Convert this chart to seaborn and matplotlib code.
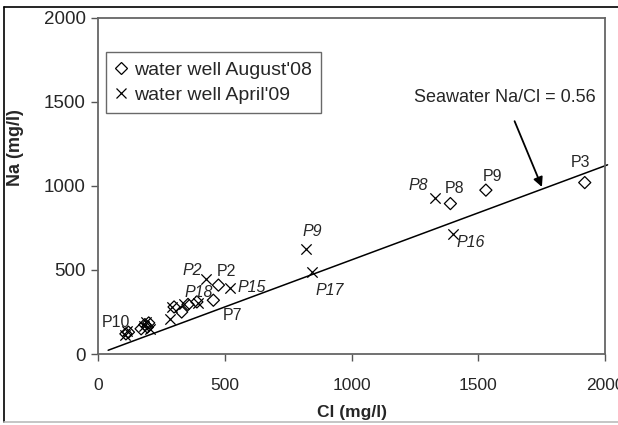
import numpy as np
import matplotlib
matplotlib.use('Agg')
import matplotlib.pyplot as plt
from matplotlib.lines import Line2D
import seaborn as sns

# data (Cl, Na in mg/l)
aug08_cl = [110, 120, 170, 185, 195, 200, 300, 330, 355, 390, 455, 475, 1390, 1530, 1920]
aug08_na = [120, 130, 150, 175, 160, 185, 280, 250, 295, 310, 320, 410, 895, 975, 1020]
apr09_cl = [105, 115, 180, 190, 205, 285, 290, 340, 395, 425, 520, 820, 845, 1330, 1400]
apr09_na = [115, 135, 165, 190, 150, 210, 280, 300, 305, 445, 390, 625, 490, 930, 715]

seawater_ratio = 0.56
line_cl = [40, 2010]

# point labels: text, Cl, Na, italic?
labels = [
    ('P10', 71, 185, False), ('P2', 371, 494, True), ('P2', 505, 488, False),
    ('P18', 398, 369, True), ('P15', 607, 393, True), ('P7', 529, 232, False),
    ('P9', 844, 726, True), ('P17', 915, 375, True), ('P8', 1262, 1000, True),
    ('P8', 1408, 982, False), ('P9', 1558, 1054, False), ('P16', 1471, 661, True),
    ('P3', 1905, 1137, False),
]

sns.set_style('white')
plt.rcParams['font.family'] = ['Liberation Sans', 'DejaVu Sans']

fig = plt.figure(figsize=(6.18, 4.25), dpi=100)
ax = fig.add_axes([0.1586, 0.167, 0.8204, 0.791])

# seawater mixing line
ax.plot(line_cl, [c * seawater_ratio for c in line_cl], color='black', lw=1.1,
        clip_on=False, zorder=2)

sns.scatterplot(x=aug08_cl, y=aug08_na, marker='D', s=38, facecolor='none',
                edgecolor='black', linewidth=0.9, ax=ax, zorder=3)
sns.scatterplot(x=apr09_cl, y=apr09_na, marker='x', s=55, color='black',
                linewidth=0.9, ax=ax, zorder=3)

for txt, x, y, it in labels:
    ax.text(x, y, txt, ha='center', va='center', fontsize=11.5,
            style='italic' if it else 'normal')

ax.annotate('Seawater Na/Cl = 0.56', xy=(1751, 994), xytext=(1605, 1524),
            ha='center', va='center', fontsize=13,
            arrowprops=dict(arrowstyle='-|>', color='black', lw=1.3,
                            mutation_scale=14, shrinkA=9, shrinkB=0))

ax.set_xlim(0, 2000)
ax.set_ylim(0, 2000)
ax.set_xticks([0, 500, 1000, 1500, 2000])
ax.set_yticks([0, 500, 1000, 1500, 2000])
ax.tick_params(direction='out', length=5, width=1, color='#555555',
               left=True, bottom=True, pad=4)
ax.tick_params(axis='x', labelsize=12.5, pad=12)
ax.tick_params(axis='y', labelsize=13.5)
for sp in ax.spines.values():
    sp.set_color('#666666')
    sp.set_linewidth(1.3)

ax.set_xlabel('Cl (mg/l)', fontsize=12.5, fontweight='bold', labelpad=9)
ax.set_ylabel('Na (mg/l)', fontsize=13, fontweight='bold')
ax.yaxis.set_label_coords(-0.146, 0.613)

handles = [
    Line2D([], [], marker='D', ls='none', mfc='none', mec='black', ms=6, mew=0.9),
    Line2D([], [], marker='x', ls='none', color='black', ms=7, mew=0.9),
]
leg = ax.legend(handles, ["water well August'08", "water well April'09"],
                loc='upper left', bbox_to_anchor=(0.016, 0.898), fontsize=14,
                frameon=True, fancybox=False, handlelength=0.6,
                handletextpad=0.4, borderpad=0.45, labelspacing=0.42,
                borderaxespad=0)
leg.get_frame().set_edgecolor('#444444')
leg.get_frame().set_linewidth(1.0)

# outer frame (left, top, bottom only; right edge is cut off in the original)
fig.add_artist(Line2D([0.007, 0.007], [0.007, 0.984], transform=fig.transFigure,
                      color='black', lw=1.2))
fig.add_artist(Line2D([0.007, 1.0], [0.984, 0.984], transform=fig.transFigure,
                      color='black', lw=1.2))
fig.add_artist(Line2D([0.007, 1.0], [0.007, 0.007], transform=fig.transFigure,
                      color='#bbbbbb', lw=1.2))

plt.savefig('out.png', dpi=100)
